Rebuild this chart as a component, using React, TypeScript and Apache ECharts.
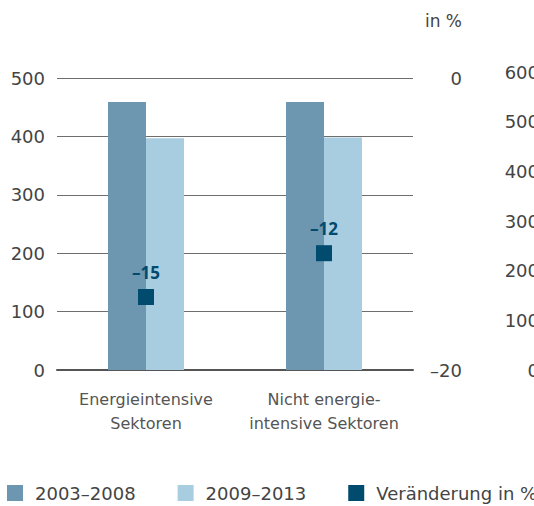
import React, { useEffect, useRef } from "react";
import * as echarts from "echarts";

const categories = ["Energieintensive\nSektoren", "Nicht energie-\nintensive Sektoren"];
const series2003 = [459, 459];
const series2009 = [397, 398];
const changePct = [-15, -12];
const legendNames = ["2003–2008", "2009–2013", "Veränderung in %"];
const leftTicks = { min: 0, max: 500, interval: 100 };
const rightTicks = { min: -20, max: 0, interval: 20 };
const farTicks = { min: 0, max: 600, interval: 100 };

const FONT = "DejaVu Sans";
const dash = (v: number | string) => String(v).replace("-", "\u2013");

export default function App() {
  const ref = useRef<HTMLDivElement>(null);
  useEffect(() => {
    if (!ref.current) return;
    const chart = echarts.init(ref.current, undefined, { renderer: "svg" });
    chart.setOption({
      animation: false,
      textStyle: { fontFamily: FONT },
      grid: [
        { left: 57, right: 121, top: 78, bottom: 136, outerBoundsMode: "none", containLabel: false },
        { left: 57, right: 121, top: 72, bottom: 136, outerBoundsMode: "none", containLabel: false },
      ],
      legend: {
        left: 7,
        top: 484,
        width: 700,
        padding: 0,
        itemWidth: 16,
        itemHeight: 16,
        itemGap: 42,
        icon: "rect",
        data: legendNames,
        textStyle: { fontFamily: FONT, fontSize: 18, color: "#444", padding: [0, 0, 0, 7] },
      },
      graphic: [
        {
          type: "text",
          x: 462,
          y: 21,
          style: {
            text: "in %",
            fontFamily: FONT,
            fontSize: 17,
            fill: "#444",
            align: "right",
            verticalAlign: "middle",
          },
        },
      ],
      xAxis: [
        {
          type: "category",
          gridIndex: 0,
          data: categories,
          axisLine: { show: true, lineStyle: { color: "#555", width: 2 } },
          axisTick: { show: false },
          axisLabel: {
            interval: 0,
            margin: 17,
            fontFamily: FONT,
            fontSize: 16,
            lineHeight: 24,
            color: "#555",
          },
        },
        { type: "category", gridIndex: 1, data: categories, show: false },
      ],
      yAxis: [
        {
          type: "value",
          gridIndex: 0,
          position: "left",
          ...leftTicks,
          axisLine: { show: false },
          axisTick: { show: false },
          splitLine: { show: true, lineStyle: { color: "#6e6e6e", width: 1 } },
          axisLabel: { margin: 12, fontFamily: FONT, fontSize: 18, color: "#444" },
        },
        {
          type: "value",
          gridIndex: 0,
          position: "right",
          ...rightTicks,
          axisLine: { show: false },
          axisTick: { show: false },
          splitLine: { show: false },
          axisLabel: {
            margin: 49,
            align: "right",
            fontFamily: FONT,
            fontSize: 18,
            color: "#444",
            formatter: (v: number) => dash(v),
          },
        },
        {
          type: "value",
          gridIndex: 1,
          position: "right",
          ...farTicks,
          axisLine: { show: false },
          axisTick: { show: false },
          splitLine: { show: false },
          axisLabel: { margin: 126, align: "right", fontFamily: FONT, fontSize: 18, color: "#444" },
        },
      ],
      series: [
        {
          name: legendNames[0],
          type: "bar",
          xAxisIndex: 0,
          yAxisIndex: 0,
          data: series2003,
          barWidth: 38,
          barGap: "0%",
          itemStyle: { color: "#6d96b0" },
        },
        {
          name: legendNames[1],
          type: "bar",
          xAxisIndex: 0,
          yAxisIndex: 0,
          data: series2009,
          barWidth: 38,
          barGap: "0%",
          itemStyle: { color: "#a8cce0" },
        },
        {
          name: legendNames[2],
          type: "scatter",
          xAxisIndex: 0,
          yAxisIndex: 1,
          data: changePct,
          symbol: "rect",
          symbolSize: 16,
          z: 5,
          itemStyle: { color: "#004b6e", opacity: 1 },
          label: {
            show: true,
            position: "top",
            distance: 8,
            fontFamily: "Open Sans",
            fontWeight: "bold",
            fontSize: 17,
            color: "#004b6e",
            formatter: (p: any) => dash(p.value),
          },
        },
      ],
    });
    return () => chart.dispose();
  }, []);
  return (
    <div
      ref={ref}
      style={{ position: "fixed", left: 0, top: 0, width: 534, height: 506, background: "#fff" }}
    />
  );
}
